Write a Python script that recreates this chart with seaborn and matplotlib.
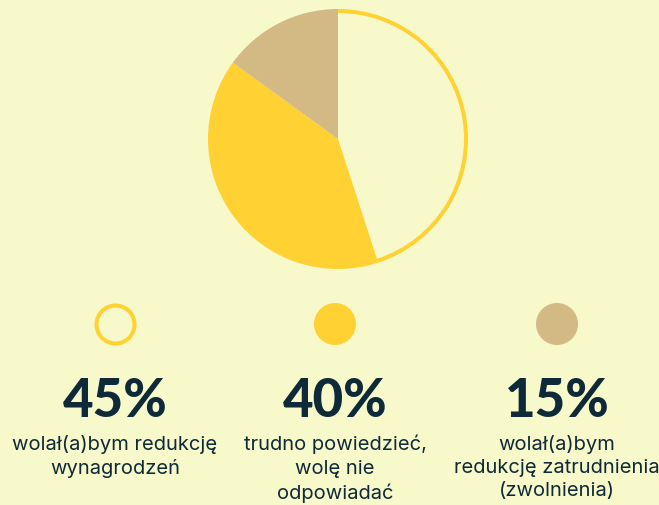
import matplotlib
matplotlib.use("Agg")
import matplotlib.pyplot as plt
from matplotlib.patches import Arc
import pandas as pd
import seaborn as sns

# Survey answers
categories = ["wolał(a)bym redukcję\nwynagrodzeń",
              "trudno powiedzieć,\nwolę nie\nodpowiadać",
              "wolał(a)bym\nredukcję zatrudnienia\n(zwolnienia)"]
shares = [45, 40, 15]
pct_labels = ["45%", "40%", "15%"]

BG = "#f8f9cb"
YELLOW = "#ffd133"
TAN = "#d3b983"
INK = "#0e2a38"
fills = [BG, YELLOW, TAN]

sns.set_theme(style="white")
plt.rcParams["font.family"] = ["Lato", "DejaVu Sans"]

W, H = 659, 506
fig = plt.figure(figsize=(W / 100, H / 100), dpi=100, facecolor=BG)

# --- pie ---
cx, cy, r = 338, 140, 130
pax = fig.add_axes([(cx - r) / W, 1 - (cy + r) / H, 2 * r / W, 2 * r / H])
pax.set_facecolor(BG)
wedges, _ = pax.pie(shares, colors=fills, startangle=90, counterclock=False,
                    radius=1.0, wedgeprops=dict(linewidth=0))
# outline only along the outer rim of the first slice
ring_lw_px = 4.0
ring_r = 1.0 - (ring_lw_px / 2) / r
w0 = wedges[0]
pax.add_patch(Arc((0, 0), 2 * ring_r, 2 * ring_r, theta1=w0.theta1, theta2=w0.theta2,
                  color=YELLOW, linewidth=ring_lw_px * 0.72))
pax.set_xlim(-1, 1)
pax.set_ylim(-1, 1)
pax.set_aspect("equal")
pax.axis("off")

# --- legend blocks ---
ox = fig.add_axes([0, 0, 1, 1])
ox.set_xlim(0, W)
ox.set_ylim(H, 0)
ox.axis("off")
ox.patch.set_alpha(0)

col_x = [115, 335, 557]
marker_y = 325
legend_df = pd.DataFrame({"x": col_x, "y": [marker_y] * 3, "cat": categories})

# filled markers (diameter 42 px)
d_pt = 42 * 0.72
sns.scatterplot(data=legend_df.iloc[1:], x="x", y="y", hue="cat",
                palette=fills[1:], s=d_pt ** 2, linewidth=0, legend=False, ax=ox)
# hollow marker for the first category
d_in = (42 - ring_lw_px) * 0.72
sns.scatterplot(data=legend_df.iloc[:1], x="x", y="y", s=d_in ** 2,
                facecolor=BG, edgecolor=YELLOW, linewidth=ring_lw_px * 0.72,
                legend=False, ax=ox)

for x, pct, lab in zip(col_x, pct_labels, categories):
    ox.text(x, 402, pct, ha="center", va="center", fontsize=38,
            fontweight="black", color=INK)
    ox.text(x, 435, lab, ha="center", va="top", fontsize=14.5,
            color=INK, linespacing=1.36, family=["Inter", "DejaVu Sans"])

fig.savefig("out.png", dpi=100, facecolor=BG)
